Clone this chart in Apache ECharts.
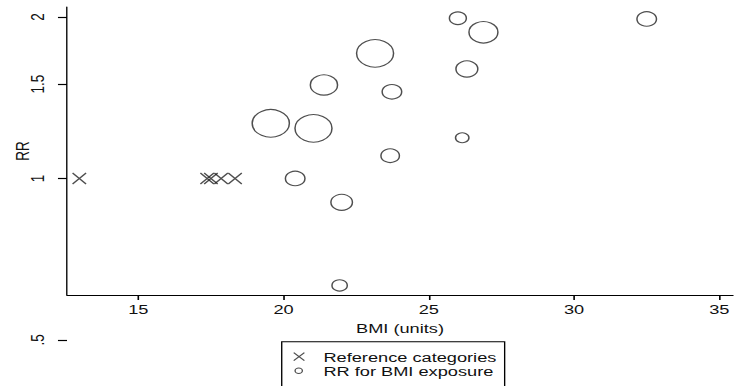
<!DOCTYPE html>
<html>
<head>
<meta charset="utf-8">
<script src="https://cdn.jsdelivr.net/npm/echarts@6/dist/echarts.min.js"></script>
<style>
  html, body { margin: 0; padding: 0; background: #fff; overflow: hidden; }
  /* the figure is drawn in a narrower box and widened horizontally */
  #chart { width: 544px; height: 386px; transform: scaleX(1.34926); transform-origin: 0 0; }
</style>
</head>
<body>
<div id="chart"></div>
<script>
// Reference BMI categories (RR fixed at 1)
const refBmi = [12.97, 17.37, 17.5, 17.85, 18.33];
const refRR = [1, 1, 1, 1, 1];

// Exposure categories: BMI, relative risk, study weight (%)
const expBmi = [19.56, 20.40, 21.03, 21.39, 21.93, 22.00, 23.15, 23.67, 23.73, 26.00, 26.15, 26.31, 26.88, 32.50];
const expRR = [1.267, 1.00, 1.240, 1.494, 0.632, 0.903, 1.711, 1.103, 1.451, 1.989, 1.191, 1.600, 1.873, 1.983];
const expWeight = [10.2, 3.0, 10.1, 5.6, 1.9, 3.6, 10.1, 2.7, 3.0, 2.3, 1.5, 3.7, 6.3, 3.0];

// Axis ticks
const bmiTicks = [15, 20, 25, 30, 35];
const rrTicks = [0.5, 1, 1.5, 2];

const FONT = "'Liberation Sans', Arial, sans-serif";
const FS = 13.5;
const INK = '#111';
const STROKE = '#222';

const X_MIN = 12.546, X_MAX = 35.47;
const LN_TOP = 0.736;       // ln RR at the top of the plot
const LN_BOTTOM = -0.5;     // ln RR where the x axis sits

const crossPath = 'path://M0,0L10,10M10,0L0,10';
const legendCross = 'path://M0,0M18,9M1,0.5L8.9,8.5M8.9,0.5L1,8.5';
const legendRing = 'path://M0,0M18,9M2,4.5A2.7,2.7 0 1,0 7.4,4.5A2.7,2.7 0 1,0 2,4.5';

const rrLabel = v => {
  const r = Math.round(Math.exp(v) * 100) / 100;
  return String(r).replace(/^0\./, '.');
};

const chart = echarts.init(document.getElementById('chart'), null, { renderer: 'svg' });

chart.setOption({
  animation: false,
  backgroundColor: '#fff',
  grid: [
    { left: 49.66, top: 7, width: 493.6, height: 288 },
    { left: 49.66, top: 7, width: 493.6, height: 333 }
  ],
  xAxis: [
    {
      gridIndex: 0, type: 'value', min: X_MIN, max: X_MAX,
      axisLine: { show: true, onZero: false, lineStyle: { color: '#000', width: 1 } },
      axisTick: { show: true, customValues: bmiTicks, length: 5, lineStyle: { color: '#000', width: 1.2 } },
      axisLabel: { customValues: bmiTicks, margin: 7, fontSize: FS, color: INK, fontFamily: FONT },
      splitLine: { show: false },
      name: 'BMI (units)', nameLocation: 'middle', nameGap: 21,
      nameTextStyle: { fontSize: FS, color: INK, fontFamily: FONT }
    },
    { gridIndex: 1, type: 'value', min: X_MIN, max: X_MAX, show: false }
  ],
  yAxis: [
    {
      gridIndex: 0, type: 'value', min: LN_BOTTOM, max: LN_TOP,
      axisLine: { show: true, onZero: false, lineStyle: { color: '#000', width: 1 } },
      axisTick: { show: false },
      axisLabel: { show: false },
      splitLine: { show: false },
      name: 'RR', nameLocation: 'middle', nameGap: 26,
      nameTextStyle: { fontSize: FS, color: INK, fontFamily: FONT }
    },
    {
      gridIndex: 1, type: 'value', min: Math.log(0.5), max: LN_TOP,
      axisLine: { show: false, onZero: false },
      axisTick: { show: true, customValues: rrTicks.map(Math.log), length: 6.7, lineStyle: { color: '#000', width: 1.2 } },
      axisLabel: { customValues: rrTicks.map(Math.log), formatter: rrLabel, rotate: 90, margin: 15,
                   fontSize: FS, color: INK, fontFamily: FONT },
      splitLine: { show: false }
    }
  ],
  legend: {
    orient: 'vertical', left: 208.8, top: 341.7, height: 80,
    padding: [8, 6, 20, 7.4], itemGap: 0, itemWidth: 18, itemHeight: 9,
    borderColor: '#000', borderWidth: 1, borderRadius: 0,
    selectedMode: false,
    itemStyle: { color: 'transparent', borderColor: STROKE, borderWidth: 1 },
    textStyle: { fontSize: FS, color: INK, fontFamily: FONT, lineHeight: 14 },
    data: [
      { name: 'Reference categories', icon: legendCross },
      { name: 'RR for BMI exposure', icon: legendRing }
    ]
  },
  series: [
    {
      type: 'scatter', name: 'Reference categories', xAxisIndex: 0, yAxisIndex: 0,
      data: refBmi.map((b, i) => [b, Math.log(refRR[i])]),
      symbol: crossPath, symbolSize: [10, 11],
      itemStyle: { color: 'transparent', borderColor: STROKE, borderWidth: 1.1 }
    },
    {
      type: 'scatter', name: 'RR for BMI exposure', xAxisIndex: 0, yAxisIndex: 0,
      data: expBmi.map((b, i) => [b, Math.log(expRR[i]), expWeight[i]]),
      symbol: 'circle',
      symbolSize: v => 2 * Math.sqrt(20 * v[2]) - 1,
      itemStyle: { color: 'transparent', borderColor: STROKE, borderWidth: 1.1 }
    }
  ]
});
</script>
</body>
</html>
